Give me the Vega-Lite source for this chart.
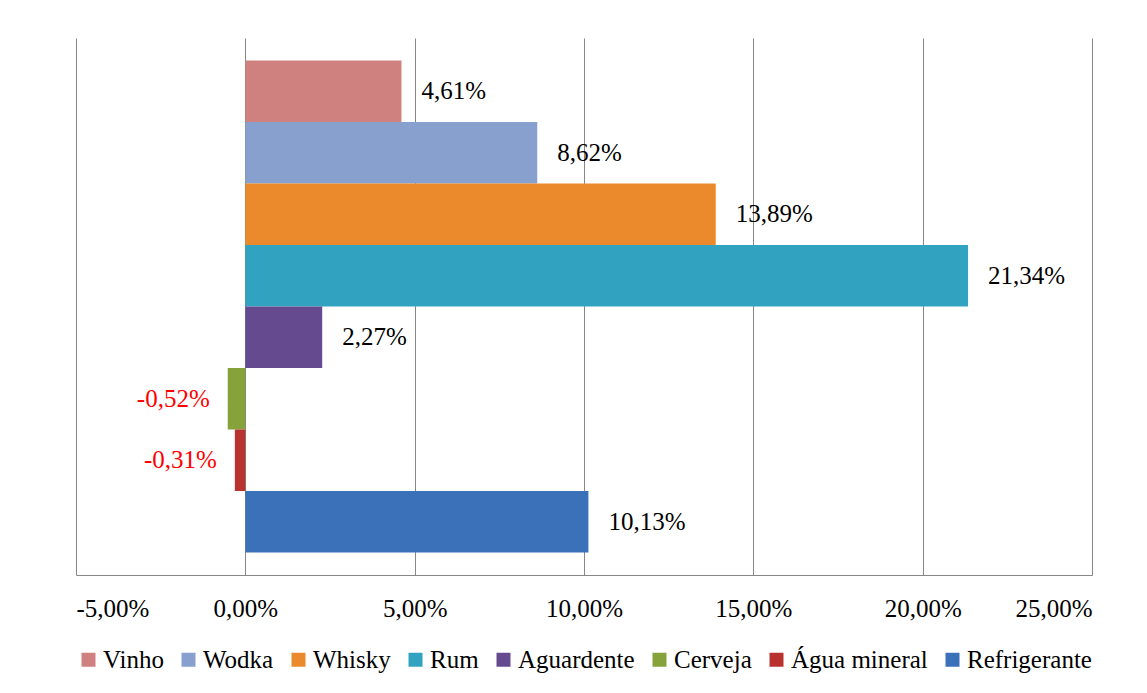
{
  "$schema": "https://vega.github.io/schema/vega-lite/v6.json",
  "width": 1016,
  "height": 537,
  "autosize": {"type": "none"},
  "padding": {"left": 76, "top": 38, "right": 55, "bottom": 118},
  "background": "white",
  "data": {
    "values": [
      {"serie": "Vinho", "valor": 0.0461},
      {"serie": "Wodka", "valor": 0.0862},
      {"serie": "Whisky", "valor": 0.1389},
      {"serie": "Rum", "valor": 0.2134},
      {"serie": "Aguardente", "valor": 0.0227},
      {"serie": "Cerveja", "valor": -0.0052},
      {"serie": "Água mineral", "valor": -0.0031},
      {"serie": "Refrigerante", "valor": 0.1013}
    ]
  },
  "encoding": {
    "y": {
      "field": "serie",
      "type": "nominal",
      "sort": ["Vinho", "Wodka", "Whisky", "Rum", "Aguardente", "Cerveja", "Água mineral", "Refrigerante"],
      "scale": {"paddingInner": 0, "paddingOuter": 0.366},
      "axis": null
    },
    "x": {
      "field": "valor",
      "type": "quantitative",
      "scale": {"domain": [-0.05, 0.25], "nice": false, "zero": false},
      "axis": {
        "values": [-0.05, 0, 0.05, 0.1, 0.15, 0.2, 0.25],
        "format": ".2%",
        "title": null,
        "grid": true,
        "gridColor": "#868686",
        "gridOpacity": 1,
        "gridWidth": 1,
        "domainColor": "#868686",
        "domainWidth": 1,
        "ticks": false,
        "tickSize": 0,
        "labelFont": "Liberation Serif, DejaVu Serif, Times, serif",
        "labelFontSize": 25,
        "labelColor": "#000000",
        "labelPadding": 21
      }
    }
  },
  "layer": [
    {
      "mark": {"type": "bar"},
      "encoding": {
        "color": {
          "field": "serie",
          "type": "nominal",
          "sort": ["Vinho", "Wodka", "Whisky", "Rum", "Aguardente", "Cerveja", "Água mineral", "Refrigerante"],
          "scale": {
            "domain": ["Vinho", "Wodka", "Whisky", "Rum", "Aguardente", "Cerveja", "Água mineral", "Refrigerante"],
            "range": ["#CF817F", "#87A0CD", "#EB8A2C", "#31A3C1", "#654A90", "#85A23B", "#B83330", "#3A71B9"]
          },
          "legend": {
            "title": null,
            "orient": "bottom",
            "direction": "horizontal",
            "columns": 8,
            "symbolType": "square",
            "symbolSize": 196,
            "symbolStrokeWidth": 0,
            "labelFont": "Liberation Serif, DejaVu Serif, Times, serif",
            "labelFontSize": 25,
            "labelColor": "#000000",
            "labelOffset": 2,
            "columnPadding": 12,
            "labelLimit": 300,
            "offset": 26
          }
        }
      }
    },
    {
      "transform": [{"filter": "datum.valor >= 0"}],
      "mark": {"type": "text", "align": "left", "baseline": "middle", "dx": 20, "font": "Liberation Serif, DejaVu Serif, Times, serif", "fontSize": 25, "color": "#000000"},
      "encoding": {
        "text": {"field": "valor", "type": "quantitative", "format": ".2%"}
      }
    },
    {
      "transform": [{"filter": "datum.valor < 0"}],
      "mark": {"type": "text", "align": "right", "baseline": "middle", "dx": -18, "font": "Liberation Serif, DejaVu Serif, Times, serif", "fontSize": 25, "color": "#FF0000"},
      "encoding": {
        "text": {"field": "valor", "type": "quantitative", "format": ".2%"}
      }
    }
  ],
  "config": {
    "view": {"stroke": null},
    "locale": {
      "number": {
        "decimal": ",",
        "thousands": ".",
        "grouping": [3],
        "currency": ["", " €"],
        "minus": "-",
        "percent": "%"
      }
    }
  }
}
